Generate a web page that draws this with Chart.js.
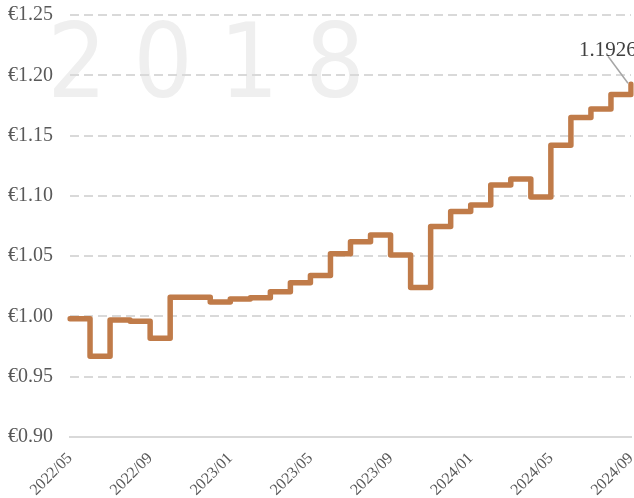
<!DOCTYPE html>
<html>
<head>
<meta charset="utf-8">
<script src="https://cdn.jsdelivr.net/npm/chart.js@4/dist/chart.umd.min.js"></script>
<style>
  html, body { margin: 0; padding: 0; background: #fff; }
  canvas { display: block; }
</style>
</head>
<body>
<canvas id="priceChart" width="634" height="498"></canvas>
<script>
// данные
const months = [
  '2022/05', '2022/06', '2022/07', '2022/08', '2022/09', '2022/10', '2022/11', '2022/12',
  '2023/01', '2023/02', '2023/03', '2023/04', '2023/05', '2023/06', '2023/07', '2023/08',
  '2023/09', '2023/10', '2023/11', '2023/12', '2024/01', '2024/02', '2024/03', '2024/04',
  '2024/05', '2024/06', '2024/07', '2024/08', '2024/09'
];
const prices = [
  0.998, 0.967, 0.997, 0.996, 0.982, 1.016, 1.016, 1.012,
  1.0145, 1.0155, 1.0205, 1.028, 1.034, 1.052, 1.062, 1.0675,
  1.051, 1.024, 1.0745, 1.087, 1.0925, 1.109, 1.114, 1.099,
  1.142, 1.165, 1.172, 1.184, 1.1926
];
const yTicks = [0.90, 0.95, 1.00, 1.05, 1.10, 1.15, 1.20, 1.25];
const watermark = ['2', '0', '1', '8'];

const serif = '"Liberation Serif", "DejaVu Serif", serif';

// большая надпись года на фоне
const watermarkPlugin = {
  id: 'watermark',
  beforeDraw(chart) {
    const ctx = chart.ctx;
    ctx.save();
    ctx.fillStyle = '#efefef';
    ctx.font = '104px "DejaVu Sans Condensed", "DejaVu Sans", sans-serif';
    ctx.textAlign = 'center';
    ctx.textBaseline = 'alphabetic';
    watermark.forEach((ch, i) => {
      ctx.fillText(ch, 77 + i * 86, 97);
    });
    ctx.restore();
  }
};

// подпись последнего значения
const lastLabelPlugin = {
  id: 'lastLabel',
  afterDatasetsDraw(chart) {
    const meta = chart.getDatasetMeta(0);
    const pt = meta.data[meta.data.length - 1];
    const ctx = chart.ctx;
    ctx.save();
    ctx.strokeStyle = '#a6a6a6';
    ctx.lineWidth = 1.5;
    ctx.beginPath();
    ctx.moveTo(pt.x - 3, pt.y - 1);
    ctx.lineTo(pt.x - 23, pt.y - 28);
    ctx.stroke();
    ctx.fillStyle = '#404040';
    ctx.font = '21px ' + serif;
    ctx.textAlign = 'left';
    ctx.textBaseline = 'alphabetic';
    ctx.fillText(prices[prices.length - 1].toFixed(4), pt.x - 52, pt.y - 28);
    ctx.restore();
  }
};

new Chart(document.getElementById('priceChart'), {
  type: 'line',
  data: {
    labels: months,
    datasets: [{
      data: prices,
      borderColor: '#c07b49',
      borderWidth: 5.5,
      stepped: 'before',
      borderJoinStyle: 'round',
      borderCapStyle: 'round',
      pointRadius: 0,
      fill: false
    }]
  },
  options: {
    responsive: false,
    animation: false,
    layout: { padding: { left: 8, right: 3, top: 15, bottom: 0 } },
    plugins: {
      legend: { display: false },
      tooltip: { enabled: false }
    },
    scales: {
      x: {
        offset: false,
        grid: { display: false },
        border: { display: true, color: '#d9d9d9', width: 2 },
        ticks: {
          autoSkip: false,
          minRotation: 45,
          maxRotation: 45,
          padding: 4,
          color: '#595959',
          font: { family: serif, size: 16 },
          callback: (v, i) => (i % 4 === 0 ? months[i] : '')
        },
        afterFit: (scale) => {
          scale.height = 61;
          scale.paddingRight = 0;
        }
      },
      y: {
        min: 0.90,
        max: 1.25,
        afterBuildTicks: (scale) => { scale.ticks = yTicks.map(v => ({ value: v })); },
        grid: {
          color: (c) => (c.tick && c.tick.value === 0.90 ? 'rgba(0,0,0,0)' : '#d9d9d9'),
          lineWidth: 2,
          drawTicks: false
        },
        border: { display: false, dash: [9, 5] },
        ticks: {
          padding: 8,
          crossAlign: 'far',
          color: '#595959',
          font: { family: serif, size: 20 },
          callback: (v) => '€' + Number(v).toFixed(2)
        },
        afterFit: (scale) => {
          scale.width = 62;
          scale.paddingTop = 0;
          scale.paddingBottom = 0;
        }
      }
    }
  },
  plugins: [watermarkPlugin, lastLabelPlugin]
});
</script>
</body>
</html>
